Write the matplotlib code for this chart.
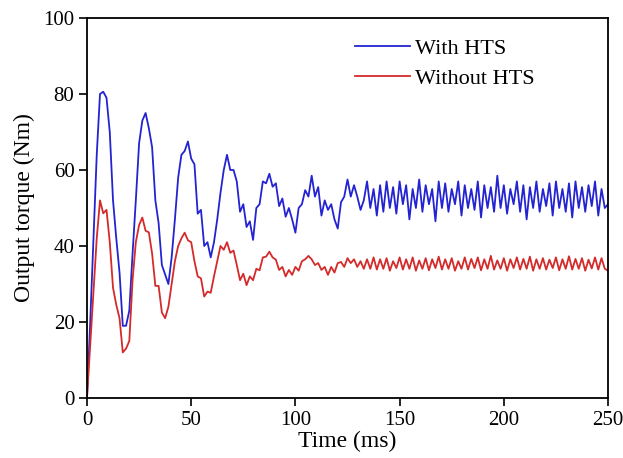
import matplotlib
matplotlib.use("Agg")
import matplotlib.pyplot as plt
import numpy as np

# 时间轴 (ms)，每 1.5625 ms 一个采样点
time_ms = np.linspace(0, 250, 161)

# 有 HTS 时的输出转矩 (Nm)
with_hts = [
    0, 20, 42, 64, 80, 80.6, 79, 70, 52, 42,
    33, 19, 19, 23, 38, 52, 67, 73, 75, 71,
    66, 52, 46, 35, 32.5, 30, 37, 47, 58, 64,
    65, 67.5, 63, 61.5, 48.5, 49.5, 40, 41, 37, 41,
    47, 54, 60, 64, 60, 60, 57, 49, 51, 45,
    46.5, 41.6, 50, 51, 57, 56.5, 59, 55.6, 56.5, 50.5,
    52.5, 47.7, 50, 47, 43.5, 50, 51, 54.7, 53, 58.5,
    53, 55.5, 48, 52, 49.5, 51, 47, 44.6, 51.5, 53,
    57.5, 53, 56, 53, 49.5, 52, 57, 50, 55, 48,
    56, 49, 57, 50, 55.5, 48.5, 57, 51, 56, 47,
    55, 50, 57.5, 49, 56, 51, 55, 46.5, 57, 50,
    56.5, 49, 55, 51, 57, 48, 56, 50, 55, 49.5,
    57, 47.5, 56, 50, 55.5, 49, 58.5, 50, 56, 48.5,
    55, 51, 57, 49, 56, 47, 55.5, 50, 57, 49,
    55, 50.5, 56.5, 48, 57, 50, 55, 49, 56.5, 47.5,
    57, 50, 55.5, 49, 56, 50.5, 57, 48, 55, 50,
    51,
]

# 无 HTS 时的输出转矩 (Nm)
without_hts = [
    0, 14, 28, 42, 52, 48.6, 49.5, 41, 29, 24.5,
    21, 12, 13, 15, 31, 41, 45.5, 47.5, 44, 43.6,
    38, 29.5, 29.5, 22.5, 21, 24, 30, 36, 40, 42,
    43.5, 41.5, 41, 36, 32, 31.5, 26.7, 28, 27.7, 32,
    36, 40, 39, 41, 38.2, 38.8, 35, 31, 32.7, 29.7,
    32, 31, 34, 33.6, 37, 37.2, 38.5, 37, 36.4, 33.7,
    34.5, 32, 33.7, 32.4, 34.5, 33.5, 36, 36.5, 37.4, 36.5,
    35, 35.5, 33.7, 34.5, 32.4, 34.5, 33, 35.5, 35.8, 34.5,
    36.8, 35.5, 36.5, 34.5, 36, 34, 36.5, 34, 37, 33.8,
    36.5, 34, 36.8, 33.5, 36, 34.2, 37, 33.8, 36.5, 34,
    37, 33.5, 36.2, 34, 36.8, 33.6, 36.5, 34.2, 37.2, 33.8,
    36.5, 34, 36.8, 33.5, 36, 34, 37, 33.8, 36.6, 34.2,
    37, 33.6, 36.5, 34, 37.4, 33.8, 36.2, 34, 36.8, 33.5,
    36.5, 34.2, 37, 33.8, 36.6, 34, 37.2, 33.5, 36.5, 34,
    36.8, 33.8, 36.4, 34.2, 37, 33.6, 36.5, 34, 37.3, 33.8,
    36.6, 34, 36.8, 33.5, 36.4, 34.1, 37, 33.8, 36.8, 34,
    33.5,
]

x_ticks = [0, 50, 100, 150, 200, 250]
y_ticks = [0, 20, 40, 60, 80, 100]

plt.rcParams['font.family'] = ['Liberation Serif', 'DejaVu Serif']

fig = plt.figure(figsize=(6.23, 4.58), dpi=100)
ax = fig.add_axes([0.1396, 0.131, 0.8364, 0.8297])

ax.plot(time_ms, with_hts, color='#2323d2', lw=1.3, label='With HTS')
ax.plot(time_ms, without_hts, color='#d42a2a', lw=1.3, label='Without HTS')

ax.set_xlim(0, 250)
ax.set_ylim(0, 100)
ax.set_xticks(x_ticks)
ax.set_yticks(y_ticks)
ax.tick_params(direction='out', length=6, width=1.2, labelsize=15,
               top=False, right=False, pad=3)
for sp in ax.spines.values():
    sp.set_linewidth(1.3)

ax.set_xlabel('Time (ms)', fontsize=17, labelpad=1)
ax.set_ylabel('Output torque (Nm)', fontsize=17, labelpad=6)

ax.legend(loc='upper left', bbox_to_anchor=(0.514, 0.947), frameon=False,
          fontsize=16, handlelength=2.5, handletextpad=0.2,
          labelspacing=0.45, borderpad=0, borderaxespad=0)

fig.savefig('out.png', dpi=100)
